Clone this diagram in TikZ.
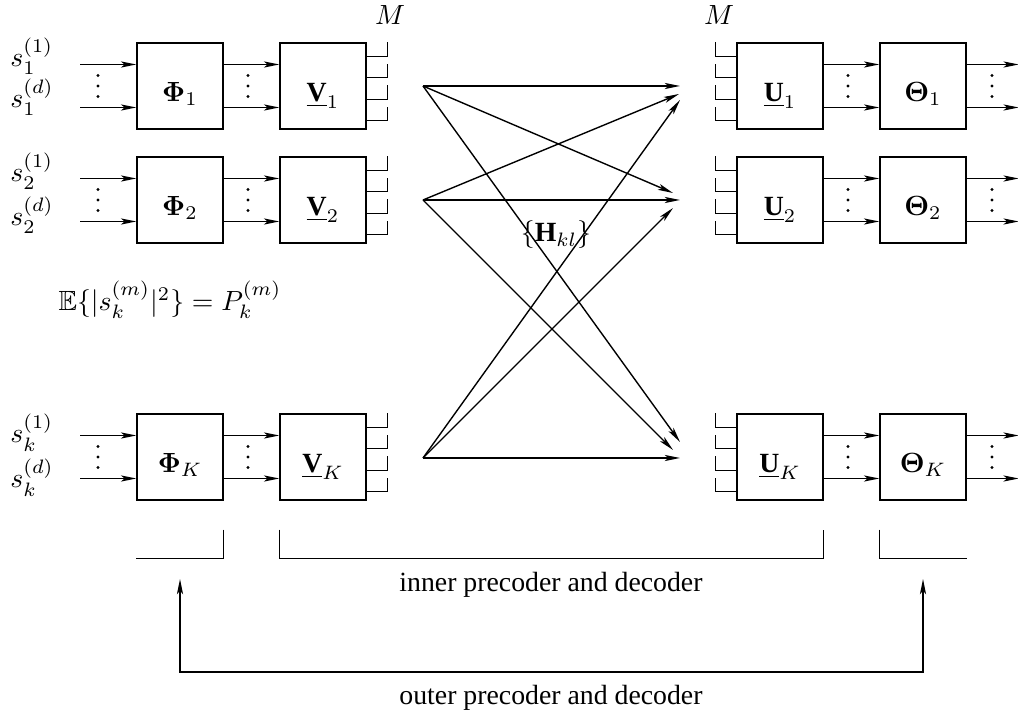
\documentclass[tikz,border=0pt]{standalone}
\usepackage{amsmath}
\usepackage{amssymb}
\usepackage{fontspec}
\setmainfont{Liberation Serif}
\usepackage{tikz}
\usetikzlibrary{calc,arrows.meta}

\begin{document}
\begin{tikzpicture}[x=0.36pt, y=-0.36pt, line width=0.5pt,
  arr/.style={-{Stealth[length=5.5pt,width=2.2pt,inset=1.3pt]}},
  dbl/.style={{Stealth[length=5.5pt,width=2.2pt,inset=1.3pt]}-{Stealth[length=5.5pt,width=2.2pt,inset=1.3pt]}},
  blk/.style={draw, minimum size=31pt, inner sep=0pt, text height=11pt, text depth=0pt},
  lbl/.style={inner sep=1pt}
]
\useasboundingbox (0,0) rectangle (1018,711);
\def\dy{21.5}

% transmitter and receiver chains
\foreach \r/\n/\y/\ya/\yb in {1/1/86/67/108, 2/2/200/182/226, K/k/457/443/488} {
  \node[blk] (P\r) at (180,\y) {$\boldsymbol{\Phi}_{\r}$};
  \node[blk] (V\r) at (323,\y) {$\underline{\mathbf{V}}_{\r}$};
  \node[blk] (U\r) at (780,\y) {$\underline{\mathbf{U}}_{\r}$};
  \node[blk] (T\r) at (923,\y) {$\boldsymbol{\Theta}_{\r}$};

  \node[lbl, anchor=base west] (sa\r) at (7,\ya) {$s_{\n}^{(1)}$};
  \node[lbl, anchor=base west] (sb\r) at (7,\yb) {$s_{\n}^{(d)}$};
  \coordinate (ina\r) at (80,\y-\dy);
  \coordinate (inb\r) at (80,\y+\dy);
  \draw[arr] (ina\r) -- (ina\r -| P\r.west);
  \draw[arr] (inb\r) -- (inb\r -| P\r.west);

  \draw[arr] ($(P\r.east)+(0,-\dy)$) -- ($(V\r.west)+(0,-\dy)$);
  \draw[arr] ($(P\r.east)+(0,\dy)$) -- ($(V\r.west)+(0,\dy)$);
  \draw[arr] ($(U\r.east)+(0,-\dy)$) -- ($(T\r.west)+(0,-\dy)$);
  \draw[arr] ($(U\r.east)+(0,\dy)$) -- ($(T\r.west)+(0,\dy)$);
  \draw[arr] ($(T\r.east)+(0,-\dy)$) -- ++(52,0);
  \draw[arr] ($(T\r.east)+(0,\dy)$) -- ++(52,0);

  % vertical dots between the streams
  \foreach \x in {98,248,848,992}
    \foreach \k in {-10.5,0,10.5}
      \fill (\x,\y+\k) circle (0.6pt);

  % antennas
  \foreach \i in {0,...,3} {
    \draw ($(V\r.north east)+(0,14+\dy*\i)$) -- ++(21,0) -- ++(0,-14);
    \draw ($(U\r.north west)+(0,14+\dy*\i)$) -- ++(-21,0) -- ++(0,-14);
  }
}

\node[lbl] (Mt) at (390,15) {$M$};
\node[lbl] (Mr) at (719,15) {$M$};

% channel
\coordinate (tx1) at (423,86);
\coordinate (tx2) at (423,200);
\coordinate (txK) at (423,458);
\coordinate (r1-1) at (680,86);
\coordinate (r1-2) at (679,94);
\coordinate (r1-K) at (680,100);
\coordinate (r2-1) at (673,193);
\coordinate (r2-2) at (680,200);
\coordinate (r2-K) at (673,208);
\coordinate (rK-1) at (680,442);
\coordinate (rK-2) at (673,450);
\coordinate (rK-K) at (680,458);
\foreach \s in {1,2,K}
  \foreach \t in {1,2,K}
    \draw[arr] (tx\s) -- (r\t-\s);

\node[lbl] (H) at (556,235) {$\{\mathbf{H}_{kl}\}$};
\node[lbl] (pow) at (170,300) {$\mathbb{E}\{|s_k^{(m)}|^2\} = P_k^{(m)}$};

% inner and outer parts
\draw ($(PK.south east)+(0,29)$) |- ($(PK.south west)+(0,58)$);
\draw ($(VK.south west)+(0,29)$) |- ($(UK.south east)+(0,58)$) -- ($(UK.south east)+(0,29)$);
\draw ($(TK.south west)+(0,29)$) |- ($(TK.south east)+(0,58)$);
\node[lbl, anchor=base] (inner) at (551,592) {inner precoder and decoder};

\coordinate (oL) at (180,579);
\coordinate (oR) at (923,579);
\coordinate (ob) at (551,672);
\draw[dbl] (oL) |- (ob) -| (oR);
\node[lbl, anchor=base] (outer) at (551,704) {outer precoder and decoder};
\end{tikzpicture}
\end{document}
